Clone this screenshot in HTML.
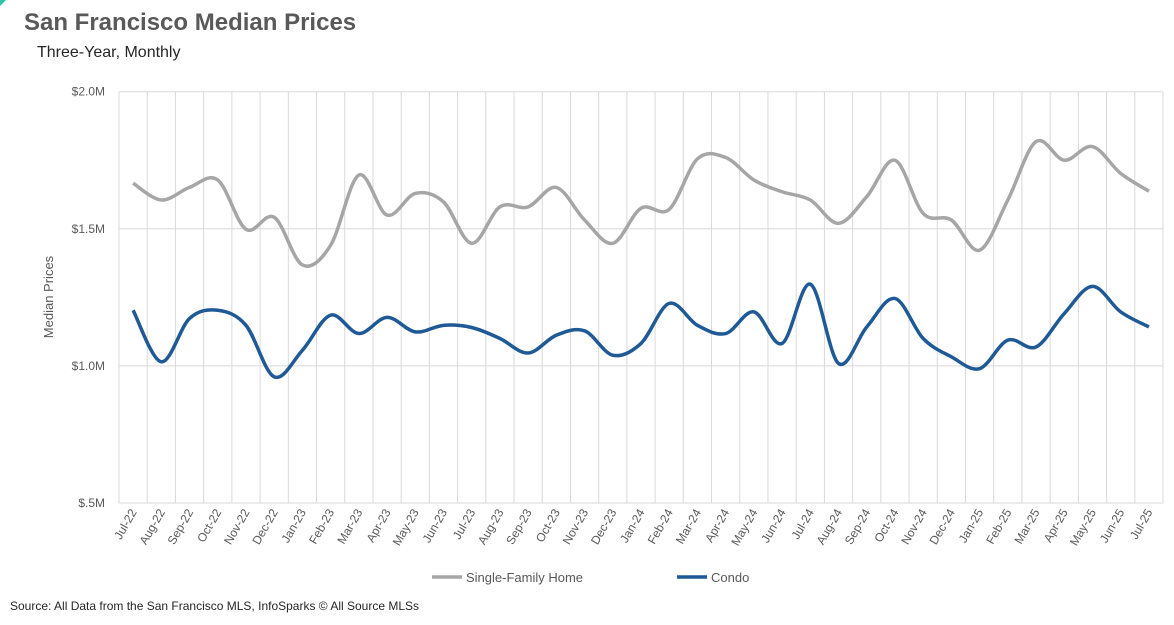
<!DOCTYPE html>
<html><head><meta charset="utf-8"><style>
body{margin:0;background:#fff;width:1174px;height:620px;overflow:hidden;font-family:"Liberation Sans",sans-serif;}
</style></head><body>
<svg width="1174" height="620" xmlns="http://www.w3.org/2000/svg" font-family="Liberation Sans, sans-serif">
<polygon points="0,0 6,0 0,6" fill="#2fc3a6"/>
<text x="24" y="30" font-size="24" font-weight="bold" fill="#595959">San Francisco Median Prices</text>
<text x="37" y="57" font-size="16" fill="#262626">Three-Year, Monthly</text>
<text transform="translate(53,297) rotate(-90)" text-anchor="middle" font-size="13" fill="#595959">Median Prices</text>
<g id="grid"></g><g id="ylab"></g><g id="xlab"></g><g id="lines"></g>
<g>
<line x1="432" y1="577" x2="462" y2="577" stroke="#a6a6a6" stroke-width="3.5"/>
<text x="466" y="582" font-size="13" fill="#595959">Single-Family Home</text>
<line x1="677" y1="577" x2="707" y2="577" stroke="#1f5a96" stroke-width="3.5"/>
<text x="711" y="582" font-size="13" fill="#595959">Condo</text>
</g>
<text x="10" y="610" font-size="12" fill="#262626">Source: All Data from the San Francisco MLS, InfoSparks © All Source MLSs</text>
</svg>
<script>
const months=["Jul-22","Aug-22","Sep-22","Oct-22","Nov-22","Dec-22","Jan-23","Feb-23","Mar-23","Apr-23","May-23","Jun-23","Jul-23","Aug-23","Sep-23","Oct-23","Nov-23","Dec-23","Jan-24","Feb-24","Mar-24","Apr-24","May-24","Jun-24","Jul-24","Aug-24","Sep-24","Oct-24","Nov-24","Dec-24","Jan-25","Feb-25","Mar-25","Apr-25","May-25","Jun-25","Jul-25"];
const sfh=[1.666,1.605,1.651,1.678,1.498,1.542,1.368,1.44,1.696,1.55,1.629,1.598,1.447,1.58,1.58,1.651,1.532,1.447,1.575,1.571,1.755,1.76,1.678,1.635,1.605,1.52,1.617,1.75,1.556,1.532,1.422,1.605,1.818,1.75,1.80,1.702,1.637];
const condo=[1.203,1.015,1.173,1.203,1.148,0.96,1.057,1.185,1.118,1.177,1.124,1.148,1.14,1.10,1.047,1.112,1.128,1.039,1.082,1.228,1.148,1.118,1.197,1.082,1.298,1.009,1.142,1.246,1.10,1.033,0.99,1.094,1.069,1.191,1.29,1.197,1.142];
const yTicks=[0.5,1.0,1.5,2.0];
const yTickLabels=["$.5M","$1.0M","$1.5M","$2.0M"];
const NS="http://www.w3.org/2000/svg";
const L=119,R=1163,T=91.7,B=503;
const bw=(R-L)/months.length;
const xs=i=>L+bw*(i+0.5);
const ys=v=>B-(v-0.5)/1.5*(B-T);
function mk(t,a,p){const e=document.createElementNS(NS,t);for(const k in a)e.setAttribute(k,a[k]);document.getElementById(p).appendChild(e);return e;}
for(let i=0;i<=months.length;i++){const x=L+bw*i;
const g=mk('line',{x1:x,y1:T,x2:x,y2:B,stroke:'#d9d9d9','stroke-width':1},'grid');

}
yTicks.forEach((v,i)=>{const y=ys(v);
const g=mk('line',{x1:L,y1:y,x2:R,y2:y,stroke:'#d9d9d9','stroke-width':1},'grid');


const t=mk('text',{x:105,y:y+4,'text-anchor':'end','font-size':12,fill:'#595959'},'ylab');t.textContent=yTickLabels[i];

});
months.forEach((m,i)=>{const x=xs(i)+4,y=512;
const t=mk('text',{x:x,y:y,'text-anchor':'end','font-size':12,fill:'#595959',transform:`rotate(-60 ${x} ${y})`},'xlab');t.textContent=m;

});
function path(vals){const p=vals.map((v,i)=>[xs(i),ys(v)]);let d=`M${p[0][0]},${p[0][1]}`;
for(let i=0;i<p.length-1;i++){const p0=p[Math.max(i-1,0)],p1=p[i],p2=p[i+1],p3=p[Math.min(i+2,p.length-1)];
const c1=[p1[0]+(p2[0]-p0[0])/6,p1[1]+(p2[1]-p0[1])/6],c2=[p2[0]-(p3[0]-p1[0])/6,p2[1]-(p3[1]-p1[1])/6];
d+=` C${c1[0]},${c1[1]} ${c2[0]},${c2[1]} ${p2[0]},${p2[1]}`;}return d;}
const a=mk('path',{d:path(sfh),fill:'none',stroke:'#a6a6a6','stroke-width':3.5,'stroke-linejoin':'round'},'lines');


const b=mk('path',{d:path(condo),fill:'none',stroke:'#1f5a96','stroke-width':3.5,'stroke-linejoin':'round'},'lines');


</script>
</body></html>
